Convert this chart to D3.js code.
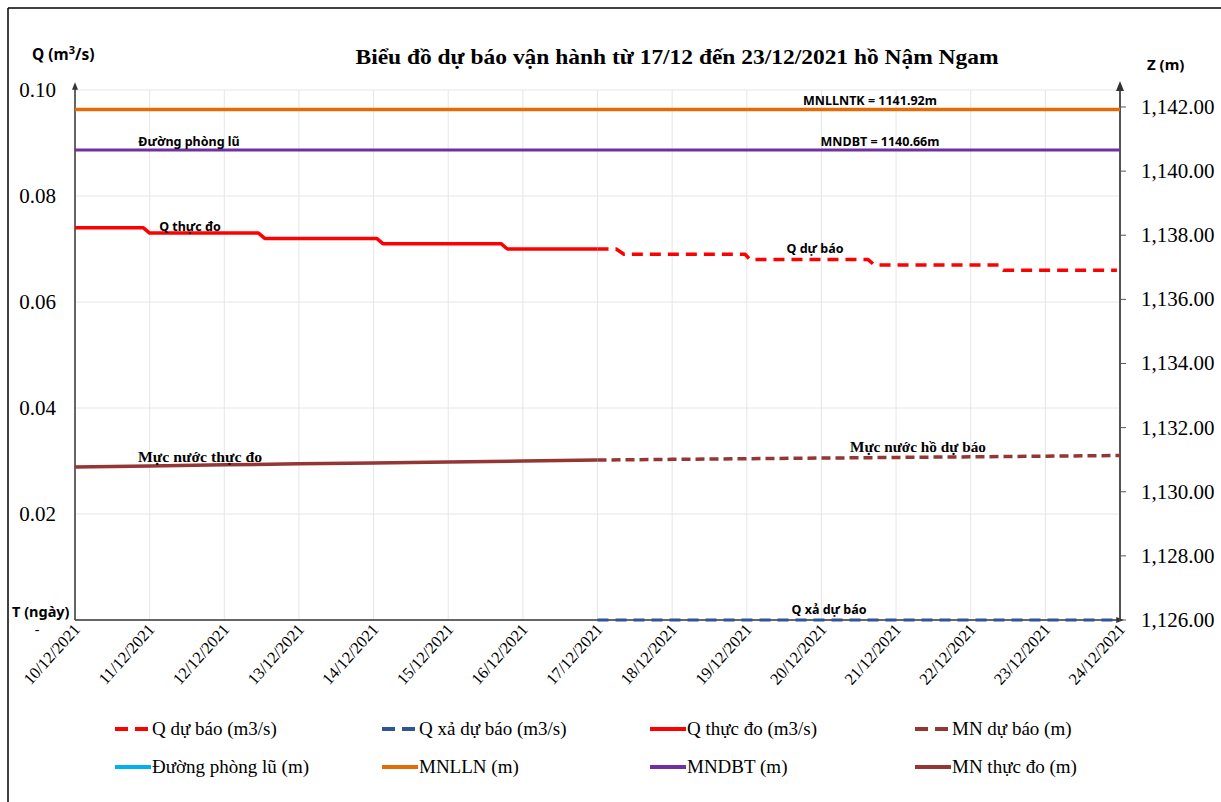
<!DOCTYPE html>
<html>
<head>
<meta charset="utf-8">
<script src="https://cdn.jsdelivr.net/npm/d3@7"></script>
<style>
  body { margin: 0; background: #fff; }
  svg { display: block; }
</style>
</head>
<body>
<svg width="1221" height="802"></svg>
<script>
// tick labels
var dayLabels = ["10/12/2021","11/12/2021","12/12/2021","13/12/2021","14/12/2021","15/12/2021","16/12/2021",
                 "17/12/2021","18/12/2021","19/12/2021","20/12/2021","21/12/2021","22/12/2021","23/12/2021","24/12/2021"];
var qTicks = [0, 0.02, 0.04, 0.06, 0.08, 0.10];
var zTicks = [1126, 1128, 1130, 1132, 1134, 1136, 1138, 1140, 1142];

// Q thuc do (m3/s)
var qThucDoTime  = ["2021-12-10T00:00","2021-12-10T22:00","2021-12-11T00:00","2021-12-12T11:00","2021-12-12T13:00",
                    "2021-12-14T01:00","2021-12-14T03:00","2021-12-15T17:00","2021-12-15T19:00","2021-12-17T00:00"];
var qThucDoValue = [0.074,0.074,0.073,0.073,0.072,0.072,0.071,0.071,0.070,0.070];

// Q du bao (m3/s)
var qDuBaoTime  = ["2021-12-17T00:00","2021-12-17T06:00","2021-12-17T08:30","2021-12-18T23:30","2021-12-19T01:00",
                   "2021-12-20T15:00","2021-12-20T17:00","2021-12-22T09:00","2021-12-22T10:30","2021-12-23T23:00"];
var qDuBaoValue = [0.070,0.070,0.069,0.069,0.068,0.068,0.067,0.067,0.066,0.066];

// Q xa du bao (m3/s)
var qXaTime  = ["2021-12-17T00:00","2021-12-24T00:00"];
var qXaValue = [0, 0];

// MN thuc do / du bao (m)
var mnThucDoTime  = ["2021-12-10","2021-12-11","2021-12-12","2021-12-13","2021-12-14","2021-12-15","2021-12-16","2021-12-17"];
var mnThucDoValue = [1130.77,1130.80,1130.84,1130.87,1130.90,1130.93,1130.96,1130.99];
var mnDuBaoTime   = ["2021-12-17","2021-12-18","2021-12-19","2021-12-20","2021-12-21","2021-12-22","2021-12-23","2021-12-24"];
var mnDuBaoValue  = [1130.99,1131.01,1131.03,1131.05,1131.07,1131.09,1131.11,1131.13];

var mnllntk = 1141.92;
var mndbt = 1140.66;

var legendNames = ["Q dự báo (m3/s)","Q xả dự báo (m3/s)","Q thực đo (m3/s)","MN dự báo (m)",
                   "Đường phòng lũ (m)","MNLLN (m)","MNDBT (m)","MN thực đo (m)"];

var parse = d3.isoParse;
var svg = d3.select("svg");

var x = d3.scaleTime().domain([parse("2021-12-10"), parse("2021-12-24")]).range([75, 1120]);
var yQ = d3.scaleLinear().domain([0, 0.1]).range([620, 90]);
var yZ = d3.scaleLinear().domain([1126, 1142.53]).range([620, 90]);

var days = dayLabels.map(function(d){ var p = d.split("/"); return new Date(+p[2], +p[1]-1, +p[0]); });

// frame
svg.append("line").attr("x1",8).attr("x2",1221).attr("y1",8).attr("y2",8).attr("stroke","#000").attr("stroke-width",1.5);
svg.append("line").attr("x1",8).attr("x2",8).attr("y1",8).attr("y2",802).attr("stroke","#000").attr("stroke-width",1.5);

// gridlines
svg.append("g").selectAll("line").data(days.slice(1, -1)).enter().append("line")
    .attr("x1", function(d){ return x(d); }).attr("x2", function(d){ return x(d); })
    .attr("y1", 90).attr("y2", 620)
    .attr("stroke", "#e6e6e6").attr("stroke-width", 1);
svg.append("g").selectAll("line").data(qTicks.slice(1)).enter().append("line")
    .attr("x1", 75).attr("x2", 1120)
    .attr("y1", function(d){ return yQ(d); }).attr("y2", function(d){ return yQ(d); })
    .attr("stroke", "#e6e6e6").attr("stroke-width", 1);

// title
svg.append("text").attr("x", 677).attr("y", 64).attr("text-anchor","middle")
    .style("font-family","Liberation Serif").style("font-weight","bold").style("font-size","21.5px")
    .attr("textLength", 643).attr("lengthAdjust","spacingAndGlyphs")
    .text("Biểu đồ dự báo vận hành từ 17/12 đến 23/12/2021 hồ Nậm Ngam");

// axis titles
var qt = svg.append("text").attr("x", 32).attr("y", 60)
    .style("font-family","Noto Sans").style("font-weight","bold").style("font-size","15.5px");
qt.append("tspan").text("Q (m");
qt.append("tspan").attr("dy",-6).style("font-size","11px").text("3");
qt.append("tspan").attr("dy",6).text("/s)");
svg.append("text").attr("x", 1147).attr("y", 70)
    .style("font-family","Noto Sans").style("font-weight","bold").style("font-size","15px").text("Z (m)");
svg.append("text").attr("x", 12).attr("y", 617)
    .style("font-family","Noto Sans").style("font-weight","bold").style("font-size","14.5px").text("T (ngày)");

// left axis labels
svg.append("g").selectAll("text").data(qTicks.slice(1)).enter().append("text")
    .attr("x", 56).attr("y", function(d){ return yQ(d) + 7; }).attr("text-anchor","end")
    .style("font-family","Liberation Serif").style("font-size","21px")
    .text(function(d){ return d3.format(".2f")(d); });
svg.append("text").attr("x", 37).attr("y", 634).attr("text-anchor","middle")
    .style("font-family","Liberation Serif").style("font-size","14px").text("-");

// right axis labels & ticks
svg.append("g").selectAll("text").data(zTicks).enter().append("text")
    .attr("x", 1141).attr("y", function(d){ return yZ(d) + 7; })
    .style("font-family","Liberation Serif").style("font-size","21px")
    .text(function(d){ return d3.format(",.2f")(d); });
svg.append("g").selectAll("line").data(zTicks).enter().append("line")
    .attr("x1", 1120).attr("x2", 1126)
    .attr("y1", function(d){ return yZ(d); }).attr("y2", function(d){ return yZ(d); })
    .attr("stroke", "#555").attr("stroke-width", 1);

// x labels
svg.append("g").selectAll("text").data(days).enter().append("text")
    .attr("transform", function(d){ return "translate(" + (x(d) + 6) + ",630) rotate(-48)"; })
    .attr("text-anchor","end")
    .style("font-family","Liberation Serif").style("font-size","16.5px")
    .text(function(d,i){ return dayLabels[i]; });

// arrow marker
var defs = svg.append("defs");
defs.append("marker").attr("id","arr").attr("viewBox","0 0 10 10").attr("refX",5).attr("refY",5)
    .attr("markerWidth",5).attr("markerHeight",5).attr("orient","auto")
    .append("path").attr("d","M0,1 L10,5 L0,9 z").attr("fill","#333");

// axes lines
svg.append("line").attr("x1",75).attr("x2",75).attr("y1",620).attr("y2",86)
    .attr("stroke","#333").attr("stroke-width",1.5).attr("marker-end","url(#arr)");
svg.append("line").attr("x1",1120).attr("x2",1120).attr("y1",620).attr("y2",86)
    .attr("stroke","#555").attr("stroke-width",2).attr("marker-end","url(#arr)");
svg.append("line").attr("x1",75).attr("x2",1120).attr("y1",620).attr("y2",620)
    .attr("stroke","#333").attr("stroke-width",1.5).attr("marker-end","url(#arr)");

// horizontal levels
svg.append("line").attr("x1",75).attr("x2",1120).attr("y1",yZ(mnllntk)).attr("y2",yZ(mnllntk))
    .attr("stroke","#E36C09").attr("stroke-width",3.5);
svg.append("line").attr("x1",75).attr("x2",1120).attr("y1",yZ(mndbt)).attr("y2",yZ(mndbt))
    .attr("stroke","#7030A0").attr("stroke-width",3);

function series(times, values){
  return times.map(function(t,i){ return [parse(t), values[i]]; });
}
function drawLine(data, yScale, color, width, dash){
  var line = d3.line().x(function(d){ return x(d[0]); }).y(function(d){ return yScale(d[1]); });
  svg.append("path").datum(data).attr("d", line)
    .attr("fill","none").attr("stroke",color).attr("stroke-width",width)
    .attr("stroke-dasharray", dash || null).attr("stroke-linejoin","round");
}

drawLine(series(mnThucDoTime, mnThucDoValue), yZ, "#943634", 3.5);
drawLine(series(mnDuBaoTime, mnDuBaoValue), yZ, "#943634", 3.5, "9,5");
drawLine(series(qThucDoTime, qThucDoValue), yQ, "#FF0000", 3.5);
drawLine(series(qDuBaoTime, qDuBaoValue), yQ, "#FF0000", 3.5, "11,7");
drawLine(series(qXaTime, qXaValue), yQ, "#2F5597", 3, "11,7");

// in-plot labels
function lab(txt, xx, yy, serif, size, len){
  var t = svg.append("text").attr("x", xx).attr("y", yy).attr("text-anchor","middle")
    .style("font-family", serif ? "Liberation Serif" : "Noto Sans")
    .style("font-weight","bold").style("font-size", (size || 12.5) + "px").text(txt);
  if (len) t.attr("textLength", len).attr("lengthAdjust","spacingAndGlyphs");
}
lab("MNLLNTK = 1141.92m", 870, 105);
lab("MNDBT = 1140.66m", 880, 146);
lab("Đường phòng lũ", 189, 146);
lab("Q thực đo", 190, 231);
lab("Q dự báo", 815, 253);
lab("Q xả dự báo", 829, 614);
lab("Mực nước thực đo", 200, 462, true, 15, 124);
lab("Mực nước hồ dự báo", 918, 452, true, 15, 136);

// legend
var legColors = ["#FF0000","#2F5597","#FF0000","#943634","#00B0F0","#E36C09","#7030A0","#943634"];
var legDash = [true,true,false,true,false,false,false,false];
var legX = [115, 382, 650, 915];
var legY = [729, 767];
var leg = svg.append("g").selectAll("g").data(legendNames).enter().append("g")
    .attr("transform", function(d,i){ return "translate(" + legX[i % 4] + "," + legY[Math.floor(i / 4)] + ")"; });
leg.append("line").attr("x1",0).attr("x2",36).attr("y1",0).attr("y2",0)
    .attr("stroke", function(d,i){ return legColors[i]; }).attr("stroke-width",4)
    .attr("stroke-dasharray", function(d,i){ return legDash[i] ? "13,7" : null; });
leg.append("text").attr("x",37).attr("y",6)
    .style("font-family","Liberation Serif").style("font-size","19px")
    .text(function(d){ return d; });
</script>
</body>
</html>
